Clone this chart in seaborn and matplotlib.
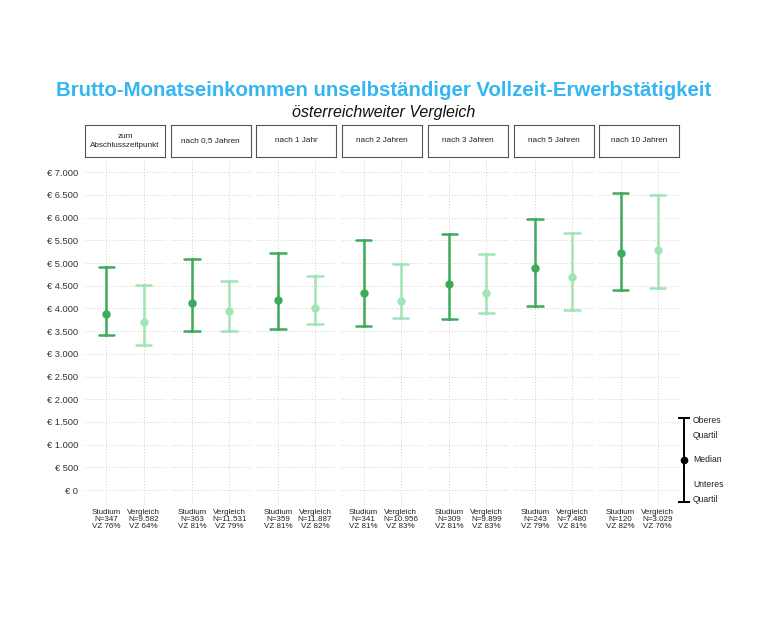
import pandas as pd
import seaborn as sns
import matplotlib.pyplot as plt
from matplotlib.ticker import FuncFormatter, MultipleLocator

# panels (time after graduation)
panels = ["zum\nAbschlusszeitpunkt", "nach 0,5 Jahren", "nach 1 Jahr", "nach 2 Jahren",
          "nach 3 Jahren", "nach 5 Jahren", "nach 10 Jahren"]
groups = ["Studium", "Vergleich"]

# quartiles of monthly gross income (EUR)
studium_q1 = [3410, 3500, 3540, 3620, 3760, 4050, 4400]
studium_med = [3870, 4130, 4180, 4330, 4540, 4900, 5220]
studium_q3 = [4920, 5100, 5220, 5500, 5650, 5980, 6540]
vergleich_q1 = [3200, 3500, 3650, 3800, 3890, 3970, 4460]
vergleich_med = [3700, 3950, 4010, 4160, 4350, 4700, 5280]
vergleich_q3 = [4520, 4600, 4720, 4970, 5200, 5670, 6490]

studium_n = ["347", "363", "359", "341", "309", "243", "120"]
vergleich_n = ["9.582", "11.531", "11.887", "10.956", "9.899", "7.480", "3.029"]
studium_vz = [76, 81, 81, 81, 81, 79, 82]
vergleich_vz = [64, 79, 82, 83, 83, 81, 76]

colors = {"Studium": "#3DAA5C", "Vergleich": "#A3E4B5"}

rows = []
for i, p in enumerate(panels):
    for v in (studium_q1[i], studium_med[i], studium_q3[i]):
        rows.append({"panel": i, "group": "Studium", "value": v})
    for v in (vergleich_q1[i], vergleich_med[i], vergleich_q3[i]):
        rows.append({"panel": i, "group": "Vergleich", "value": v})
df = pd.DataFrame(rows)

sns.set_theme(style="white")
plt.rcParams["font.family"] = ["Liberation Sans", "DejaVu Sans"]

W, H = 768, 621
fig = plt.figure(figsize=(W / 100, H / 100), dpi=100)

fig.text(0.5, 1 - 90 / H, "Brutto-Monatseinkommen unselbständiger Vollzeit-Erwerbstätigkeit",
         ha="center", va="center", fontsize=14.7, fontweight="bold", color="#33B6F2")
fig.text(0.5, 1 - 113 / H, "österreichweiter Vergleich", ha="center", va="center",
         fontsize=11.5, style="italic", color="#111111")

euro = FuncFormatter(lambda v, _: "€ " + f"{int(v):,}".replace(",", "."))
left0, pw, step = 85, 80, 85.7
top_px, bot_px = 160, 505

for i, p in enumerate(panels):
    x0 = left0 + i * step
    ax = fig.add_axes([x0 / W, 1 - bot_px / H, pw / W, (bot_px - top_px) / H])
    sub = df[df.panel == i]
    sns.pointplot(data=sub, x="group", y="value", hue="group", order=groups, hue_order=groups,
                  palette=colors, estimator="median", errorbar=("pi", 100), capsize=0.42,
                  linestyle="none", markersize=4.0, err_kws={"linewidth": 1.8},
                  legend=False, ax=ax)
    ax.set_xlim(-0.58, 1.58)
    ax.set_ylim(-330, 7270)
    ax.yaxis.set_major_locator(MultipleLocator(500))
    ax.grid(True, linestyle=(0, (1, 2)), color="#cfcfcf", linewidth=0.7)
    ax.set_axisbelow(True)
    for s in ax.spines.values():
        s.set_visible(False)
    ax.set_xlabel("")
    ax.set_ylabel("")
    ax.set_xticks([0, 1])
    ax.set_xticklabels([f"Studium\nN={studium_n[i]}\nVZ {studium_vz[i]}%",
                        f"Vergleich\nN={vergleich_n[i]}\nVZ {vergleich_vz[i]}%"],
                       fontsize=5.8, linespacing=0.95, color="#222222")
    ax.tick_params(axis="x", length=0, pad=3)
    if i == 0:
        ax.yaxis.set_major_formatter(euro)
        ax.tick_params(axis="y", length=0, pad=5, labelsize=6.7, labelcolor="#333333")
    else:
        ax.tick_params(axis="y", length=0, labelleft=False)

    # facet strip
    sx = fig.add_axes([x0 / W, 1 - 157 / H, pw / W, 32 / H])
    sx.set_xticks([])
    sx.set_yticks([])
    for s in sx.spines.values():
        s.set_visible(True)
        s.set_color("#555555")
        s.set_linewidth(0.8)
    sx.text(0.5, 0.5, p, ha="center", va="center", fontsize=5.9, linespacing=1.5,
            color="#222222", transform=sx.transAxes)

# key on the right
lg = fig.add_axes([670 / W, 1 - 510 / H, 80 / W, 100 / H])
lg.errorbar([0], [1], yerr=[[1], [1]], fmt="o", color="black", markersize=4.5,
            capsize=4, elinewidth=1.4, capthick=1.4)
lg.set_xlim(-0.7, 3.3)
lg.set_ylim(-0.19, 2.19)
lg.axis("off")
lg.text(0.45, 1.76, "Oberes\nQuartil", fontsize=6.2, va="center", linespacing=1.8, color="#222222")
lg.text(0.45, 1.0, "Median", fontsize=6.2, va="center", color="#222222")
lg.text(0.45, 0.24, "Unteres\nQuartil", fontsize=6.2, va="center", linespacing=1.8, color="#222222")

fig.savefig("out.png", dpi=100, facecolor="white")
